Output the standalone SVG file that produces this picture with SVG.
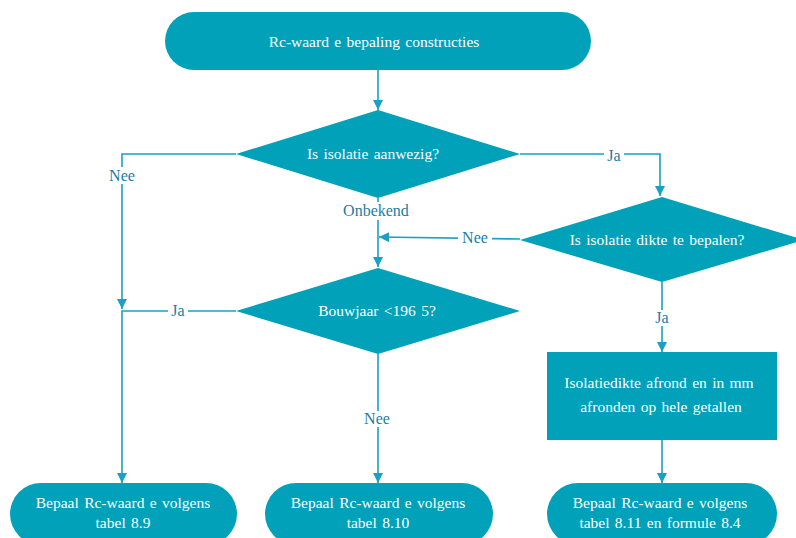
<svg xmlns="http://www.w3.org/2000/svg" width="796" height="538" viewBox="0 0 796 538">
<style>
.shape{fill:#00A1B9;}
.nt{font-family:"Liberation Serif",serif;font-size:15.5px;word-spacing:1.5px;fill:#ffffff;text-anchor:middle;}
.ln{fill:none;stroke:#1AA0C4;stroke-width:1.6;}
.lb{font-family:"Liberation Serif",serif;font-size:16px;fill:#1C7BA6;text-anchor:middle;}
.bg{fill:#ffffff;}
</style>
<defs>
<marker id="ah" viewBox="0 0 10 10" refX="10" refY="5" markerWidth="10" markerHeight="10" markerUnits="userSpaceOnUse" orient="auto">
<path d="M0,0 L10,5 L0,10 Z" fill="#1AA0C4"/>
</marker>
</defs>
<rect width="796" height="538" fill="#ffffff"/>
<g id="connectors">
<path class="ln" d="M378,70 L378,110" marker-end="url(#ah)"/>
<path class="ln" d="M236,154 L122,154 L122,309" marker-end="url(#ah)"/>
<path class="ln" d="M520,154 L660,154 L660,196" marker-end="url(#ah)"/>
<path class="ln" d="M378,198 L378,267" marker-end="url(#ah)"/>
<path class="ln" d="M520,239 L379,237" marker-end="url(#ah)"/>
<path class="ln" d="M236,311 L122,311 L122,483" marker-end="url(#ah)"/>
<path class="ln" d="M378,354 L378,483" marker-end="url(#ah)"/>
<path class="ln" d="M662,282 L662,352" marker-end="url(#ah)"/>
<path class="ln" d="M662,440 L662,483" marker-end="url(#ah)"/>
<rect class="bg" x="105" y="167" width="34" height="17"/>
<text class="lb" x="122" y="181">Nee</text>
<rect class="bg" x="604" y="147" width="20" height="16"/>
<text class="lb" x="614" y="161">Ja</text>
<rect class="bg" x="338" y="202" width="78" height="18"/>
<text class="lb" x="376" y="216">Onbekend</text>
<rect class="bg" x="458" y="230" width="34" height="16"/>
<text class="lb" x="475" y="243">Nee</text>
<rect class="bg" x="168" y="303" width="20" height="16"/>
<text class="lb" x="178" y="316">Ja</text>
<rect class="bg" x="360" y="411" width="34" height="16"/>
<text class="lb" x="377" y="424">Nee</text>
<rect class="bg" x="652" y="310" width="20" height="16"/>
<text class="lb" x="662" y="323">Ja</text>
</g>
<g id="start">
<rect class="shape" x="165" y="12" width="426" height="58" rx="29"/>
<text class="nt" x="374" y="47">Rc-waard e bepaling constructies</text>
</g>
<g id="q-isolatie">
<polygon class="shape" points="378,110 520,154 378,198 236,154"/>
<text class="nt" x="373" y="159">Is isolatie aanwezig?</text>
</g>
<g id="q-dikte">
<polygon class="shape" points="662,197 804,240 662,282 520,240"/>
<text class="nt" x="657" y="245">Is isolatie dikte te bepalen?</text>
</g>
<g id="q-bouwjaar">
<polygon class="shape" points="378,268 520,311 378,354 236,311"/>
<text class="nt" x="377" y="316">Bouwjaar &lt;196 5?</text>
</g>
<g id="afronden">
<rect class="shape" x="547" y="352" width="230" height="88"/>
<text class="nt" x="659" y="388">Isolatiedikte afrond en in mm</text>
<text class="nt" x="661" y="412">afronden op hele getallen</text>
</g>
<g id="tabel89">
<rect class="shape" x="10" y="483" width="227" height="62" rx="31"/>
<text class="nt" x="123" y="508">Bepaal Rc-waard e volgens</text>
<text class="nt" x="123" y="528">tabel 8.9</text>
</g>
<g id="tabel810">
<rect class="shape" x="265" y="483" width="228" height="62" rx="31"/>
<text class="nt" x="378" y="508">Bepaal Rc-waard e volgens</text>
<text class="nt" x="378" y="528">tabel 8.10</text>
</g>
<g id="tabel811">
<rect class="shape" x="547" y="483" width="230" height="62" rx="31"/>
<text class="nt" x="660" y="508">Bepaal Rc-waard e volgens</text>
<text class="nt" x="660" y="528">tabel 8.11 en formule 8.4</text>
</g>
</svg>
